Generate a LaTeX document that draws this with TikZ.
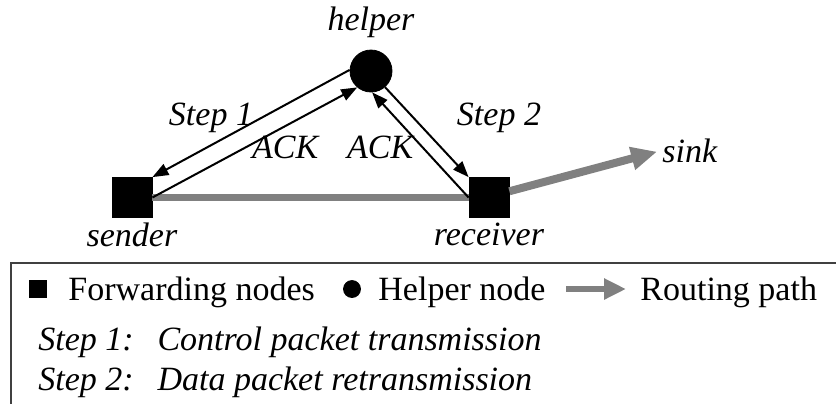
\documentclass[tikz,border=0pt]{standalone}
\usepackage{fontspec}
\setmainfont{Liberation Serif}
\usetikzlibrary{arrows.meta}

\begin{document}
\fontsize{17}{20}\selectfont
\begin{tikzpicture}[x=0.5pt,y=-0.5pt]
    \tikzstyle{fwd} = [shape=rectangle,draw,fill,minimum size=20pt,inner sep=0pt]
    \tikzstyle{hlp} = [shape=circle,draw,fill,minimum size=21pt,inner sep=0pt]
    \tikzstyle{msg} = [-{Triangle[length=8pt,width=6pt]},line width=1pt]
    \tikzstyle{route} = [gray,line width=4pt,-{Triangle[length=13pt,width=11pt]}]
    \tikzstyle{txt} = [inner sep=0pt,anchor=base]
    \useasboundingbox (0,0) rectangle (836,403);
    % network
    \node [fwd] (sender) at (132,197.5) [label={[label distance=-3.5pt]below:\textit{sender}}] {};
    \node [fwd] (receiver) at (489,197.5) [label={[label distance=-3.5pt]below:\textit{receiver}}] {};
    \node [hlp] (helper) at (371,71) [label={above:\textit{helper}}] {};
    \node [txt,anchor=base west] (sink) at (662,162) {\textit{sink}};
    \node [txt] (s1) at (211,125) {\textit{Step 1}};
    \node [txt] (s2) at (499,125) {\textit{Step 2}};
    \node [txt] (ack1) at (286,158) {\textit{ACK}};
    \node [txt] (ack2) at (381,158) {\textit{ACK}};
    \draw [gray,line width=3.25pt] (sender.east) -- (receiver.west);
    \draw [route,shorten >=2.5pt] (receiver.17) -- (sink.west);
    \draw [msg] (helper.177) -- (sender.north east);
    \draw [msg] (sender.east) -- (helper.230);
    \draw [msg] (helper.311) -- (receiver.north west);
    \draw [msg] (receiver.west) -- (helper.273);
    % legend
    \draw [draw=black!75,line width=0.7pt] (11,263) rectangle (900,450);
    \node [fwd,minimum size=8.5pt] (lfwd) at (38,289) {};
    \node [txt,anchor=base west] (tfwd) at (68,300) {Forwarding nodes};
    \node [hlp,minimum size=8.5pt] (lhlp) at (352,289) {};
    \node [txt,anchor=base west] (thlp) at (378,300) {Helper node};
    \coordinate (la) at (566,289);
    \coordinate (lb) at (626,289);
    \draw [gray,line width=3pt,-{Triangle[length=11pt,width=10pt]}] (la) -- (lb);
    \node [txt,anchor=base west] (trte) at (640,300) {Routing path};
    \node [txt,anchor=base west] (tst1) at (38,350) {\textit{Step 1:\hspace{0.7em}Control packet transmission}};
    \node [txt,anchor=base west] (tst2) at (38,390) {\textit{Step 2:\hspace{0.7em}Data packet retransmission}};
\end{tikzpicture}
\end{document}
